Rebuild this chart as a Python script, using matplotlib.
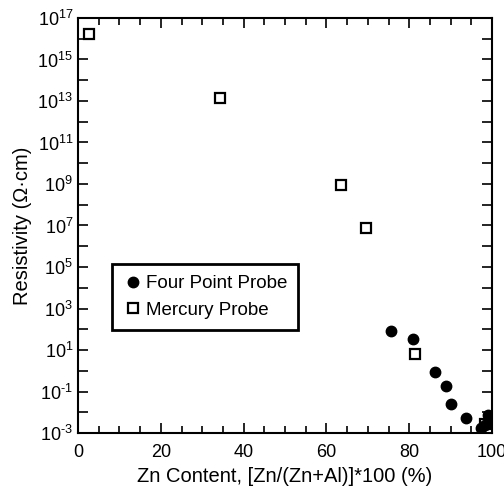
#!/usr/bin/env python3
'''Resistivity vs Zn content, four point probe and mercury probe.'''
import matplotlib
matplotlib.use('Agg')
import matplotlib.pyplot as plt
from matplotlib.ticker import FixedLocator, MultipleLocator, NullFormatter, FuncFormatter
import numpy as np

plt.rcParams['font.family'] = ['Liberation Sans', 'DejaVu Sans']
plt.rcParams['mathtext.fontset'] = 'custom'
plt.rcParams['mathtext.rm'] = 'Liberation Sans'
plt.rcParams['mathtext.it'] = 'Liberation Sans'

# four point probe
fpp_zn = [75.5, 80.8, 86.2, 88.9, 90.1, 93.6, 97.3, 98.3, 99.1]
fpp_rho = [85, 34, 0.9, 0.19, 0.026, 5.5e-3, 1.8e-3, 2.5e-3, 7e-3]

# mercury probe
hg_zn = [2.7, 34.3, 63.5, 69.5, 81.4, 98.3]
hg_rho = [1.7e16, 1.4e13, 8.5e8, 8e6, 6.6, 2.7e-3]


def decade(v, pos):
    e = int(round(np.log10(v)))
    if e < 0:
        return r'$\mathdefault{10^{\text{-}%d}}$' % (-e)
    return r'$\mathdefault{10^{%d}}$' % e


fig = plt.figure(figsize=(5.04, 4.86), dpi=100)
ax = fig.add_axes([78/504, 1 - 433/486, 414/504, 415/486])

ax.plot(hg_zn, hg_rho, linestyle='None', marker='s', markersize=6.5,
        markerfacecolor='white', markeredgecolor='black', markeredgewidth=1.6,
        label='Mercury Probe', zorder=3)
ax.plot(fpp_zn, fpp_rho, linestyle='None', marker='o', markersize=7.5,
        color='black', label='Four Point Probe', zorder=4)

ax.set_yscale('log')
ax.set_xlim(0, 100)
ax.set_ylim(1e-3, 1e17)
ax.yaxis.set_major_locator(FixedLocator(10.0**np.arange(-3, 18, 2)))
ax.yaxis.set_major_formatter(FuncFormatter(decade))
ax.yaxis.set_minor_locator(FixedLocator(10.0**np.arange(-2, 17, 2)))
ax.yaxis.set_minor_formatter(NullFormatter())
ax.xaxis.set_major_locator(MultipleLocator(20))
ax.xaxis.set_minor_locator(MultipleLocator(5))

ax.tick_params(which='both', direction='in', top=True, right=True,
               labelsize=13, width=1.2)
ax.tick_params(which='major', length=7)
ax.tick_params(which='minor', length=5)
ax.tick_params(axis='y', which='minor', length=7)
ax.tick_params(axis='x', pad=8)
for s in ax.spines.values():
    s.set_linewidth(1.5)

ax.set_xlabel('Zn Content, [Zn/(Zn+Al)]*100 (%)', fontsize=14.5, labelpad=4)
ax.set_ylabel('Resistivity (Ω·cm)', fontsize=14.5, labelpad=4)

h, l = ax.get_legend_handles_labels()
leg = ax.legend(h[::-1], l[::-1], loc='upper left',
                bbox_to_anchor=(0.082, 0.407), fontsize=13.5,
                fancybox=False, framealpha=1, edgecolor='black',
                handletextpad=0.2, handlelength=1.0, borderpad=0.6,
                labelspacing=0.5, borderaxespad=0)
leg.get_frame().set_linewidth(2)

fig.savefig('out.png', dpi=100)
